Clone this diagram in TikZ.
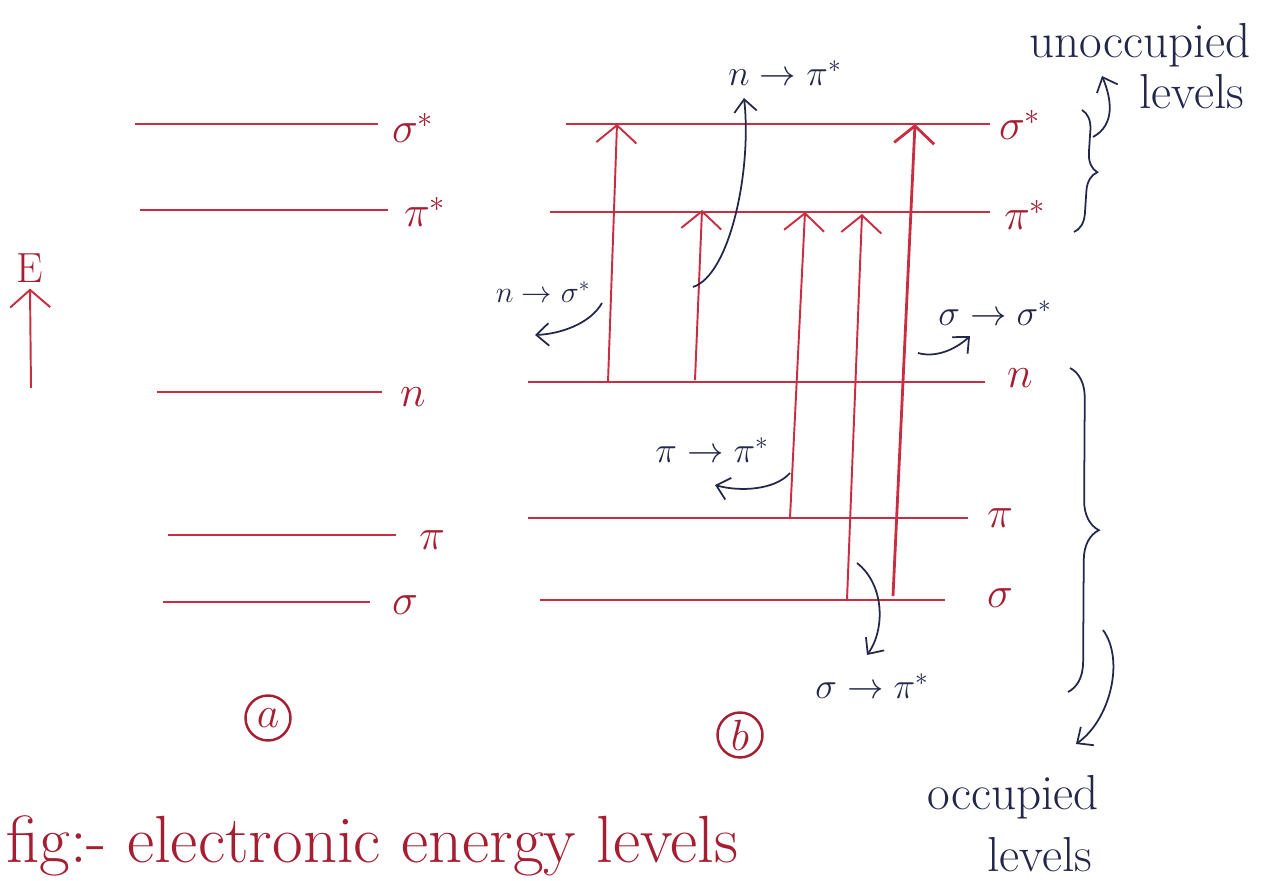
\documentclass[tikz,border=0pt]{standalone}
\usepackage{amsmath}
\usetikzlibrary{arrows.meta,decorations.pathreplacing}
\definecolor{levelred}{RGB}{200,45,65}
\definecolor{inkred}{RGB}{165,30,50}
\definecolor{ink}{RGB}{35,40,75}
\tikzset{
  level/.style={levelred, line width=0.9pt},
  jump/.style={levelred, line width=1.1pt, -{Straight Barb[length=3.5mm,width=8mm]}},
  note/.style={ink, line width=1pt, -{Straight Barb[length=2.5mm,width=4.5mm]}},
  lvlabel/.style={inkred, font=\fontsize{24}{28}\selectfont},
  translabel/.style={ink, font=\fontsize{20}{24}\selectfont},
  handtext/.style={ink, font=\fontsize{28}{32}\selectfont},
  mybrace/.style={ink, line width=1pt, decorate, decoration={brace, amplitude=#1}},
  tag/.style={inkred, circle, draw, line width=1.4pt, inner sep=0pt, minimum size=0.9cm, font=\fontsize{24}{28}\selectfont},
}
\begin{document}
\begin{tikzpicture}[x=0.02cm,y=-0.02cm]
\useasboundingbox (0,0) rectangle (1274,881);

% Energy axis
\coordinate (e0) at (31,388);
\node[lvlabel] (elab) at (30,268) {E};
\draw[jump] (e0) -- (elab.south);

% (a) levels
\draw[level] (135,124) -- (378,124);
\draw[level] (140,210) -- (388,210);
\draw[level] (157,392) -- (382,392);
\draw[level] (168,535) -- (396,535);
\draw[level] (163,602) -- (370,602);
\node[lvlabel] (asigs) at (413,128) {$\sigma^*$};
\node[lvlabel] (apis) at (425,212) {$\pi^*$};
\node[lvlabel] (an) at (413,397) {$n$};
\node[lvlabel] (api) at (432,540) {$\pi$};
\node[lvlabel] (asig) at (405,605) {$\sigma$};
\node[tag] (taga) at (268,718) {$a$};

% (b) levels
\draw[level] (566,124) -- (990,124);
\draw[level] (550,212) -- (990,212);
\draw[level] (528,382) -- (985,382);
\draw[level] (528,518) -- (968,518);
\draw[level] (540,600) -- (945,600);
\node[lvlabel] (bsigs) at (1020,125) {$\sigma^*$};
\node[lvlabel] (bpis) at (1025,215) {$\pi^*$};
\node[lvlabel] (bn) at (1020,378) {$n$};
\node[lvlabel] (bpi) at (1000,518) {$\pi$};
\node[lvlabel] (bsig) at (1000,598) {$\sigma$};
\node[tag] (tagb) at (740,735) {$b$};

% Transitions
\coordinate (ns0) at (608,382);  \coordinate (ns1) at (617,124);
\coordinate (np0) at (695,380);  \coordinate (np1) at (702,210);
\coordinate (pp0) at (790,518);  \coordinate (pp1) at (805,212);
\coordinate (sp0) at (847,600);  \coordinate (sp1) at (862,214);
\coordinate (ss0) at (893,596);  \coordinate (ss1) at (915,124);
\draw[jump] (ns0) -- (ns1);
\draw[jump] (np0) -- (np1);
\draw[jump] (pp0) -- (pp1);
\draw[jump] (sp0) -- (sp1);
\draw[jump, line width=1.6pt] (ss0) -- (ss1);

% Transition labels
\node[translabel, font=\fontsize{18}{22}\selectfont] (tns) at (543,292) {$n\to\sigma^*$};
\node[translabel] (tnp) at (785,73) {$n\to\pi^*$};
\node[translabel] (tpp) at (712,450) {$\pi\to\pi^*$};
\node[translabel] (tsp) at (872,686) {$\sigma\to\pi^*$};
\node[translabel] (tss) at (995,313) {$\sigma\to\sigma^*$};
\draw[note] (602,303) .. controls (590,324) and (560,334) .. (535,335);
\draw[note] (693,287) .. controls (730,275) and (752,170) .. (744,98);
\draw[note] (790,473) .. controls (775,490) and (740,492) .. (715,485);
\draw[note] (857,563) .. controls (885,585) and (885,630) .. (867,655);
\draw[note] (918,353) .. controls (935,358) and (955,350) .. (970,336);

% Braces
\draw[mybrace=11pt] (1082,110) -- (1074,232);
\draw[mybrace=17pt] (1070,368) -- (1068,692);
\node[handtext] (unocc) at (1140,45) {unoccupied};
\node[handtext] (unlev) at (1192,92) {levels};
\node[handtext] (occ) at (1013,797) {occupied};
\node[handtext] (occlev) at (1040,855) {levels};
\draw[note] (1093,137) .. controls (1115,125) and (1112,100) .. (1102,76);
\draw[note] (1103,630) .. controls (1125,660) and (1110,720) .. (1076,744);

% Caption
\node[inkred, anchor=west, font=\fontsize{38}{42}\selectfont] (cap) at (0,846) {fig:- electronic energy levels};
\end{tikzpicture}
\end{document}
